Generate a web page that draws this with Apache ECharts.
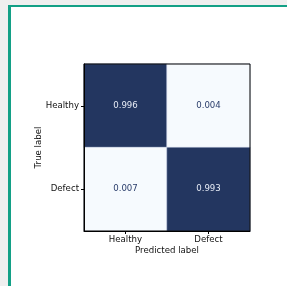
<!DOCTYPE html>
<html>
<head>
<meta charset="utf-8">
<script src="https://cdn.jsdelivr.net/npm/echarts@6/dist/echarts.min.js"></script>
<style>
  html, body { margin: 0; padding: 0; background: #efefef; }
  #frame {
    position: absolute; left: 8px; top: 5px; width: 290px; height: 290px;
    background: #fff; border-left: 3px solid #13a086; border-top: 2px solid #13a086;
  }
  #chart { position: absolute; left: 0; top: 0; width: 287px; height: 286px; }
</style>
</head>
<body>
<div id="frame"></div>
<div id="chart"></div>
<script>
// confusion matrix (normalised)
const classes = ['Healthy', 'Defect']
const matrix = [
  [0.996, 0.004],
  [0.007, 0.993]
]

const cells = []
matrix.forEach((row, i) => {
  row.forEach((v, j) => cells.push([j, i, v]))
})

const chart = echarts.init(document.getElementById('chart'))
const font = 'DejaVu Sans'
const fs = 8.6
let option = {
  animation: false,
  grid: {
    left: 84, top: 64, width: 166, height: 167,
    show: true, borderColor: '#000', borderWidth: 1, backgroundColor: 'transparent', z: 5
  },
  xAxis: {
    type: 'category',
    data: classes,
    name: 'Predicted label',
    nameLocation: 'middle',
    nameGap: 15,
    nameMoveOverlap: false,
    nameTextStyle: { fontFamily: font, fontSize: fs, color: '#111' },
    axisLine: { show: true, lineStyle: { color: '#000' } },
    axisTick: { show: true, alignWithLabel: true, length: 3, lineStyle: { color: '#000' } },
    axisLabel: { fontFamily: font, fontSize: fs, color: '#111', margin: 4 },
    splitLine: { show: false },
    z: 5
  },
  yAxis: {
    type: 'category',
    data: classes,
    inverse: true,
    name: 'True label',
    nameLocation: 'middle',
    nameGap: 41,
    nameRotate: 90,
    nameMoveOverlap: false,
    nameTextStyle: { fontFamily: font, fontSize: fs, color: '#111' },
    axisLine: { show: true, lineStyle: { color: '#000' } },
    axisTick: { show: true, alignWithLabel: true, length: 3, lineStyle: { color: '#000' } },
    axisLabel: { fontFamily: font, fontSize: fs, color: '#111', margin: 5 },
    splitLine: { show: false },
    z: 5
  },
  visualMap: {
    show: false,
    min: 0,
    max: 1,
    inRange: { color: ['#f7fbff', '#22355f'] }
  },
  series: [
    {
      type: 'heatmap',
      label: {
        show: true,
        fontFamily: font,
        fontSize: fs,
        formatter: p => p.value[2].toFixed(3)
      },
      itemStyle: { borderColor: '#c9d3e6', borderWidth: 0.5 }
    }
  ]
}
// light text on the dark cells
option.series[0].data = cells.map(c => ({
  value: c,
  label: { color: c[2] > 0.5 ? '#e6ebf5' : '#2a3d6b' }
}))
chart.setOption(option)
</script>
</body>
</html>
